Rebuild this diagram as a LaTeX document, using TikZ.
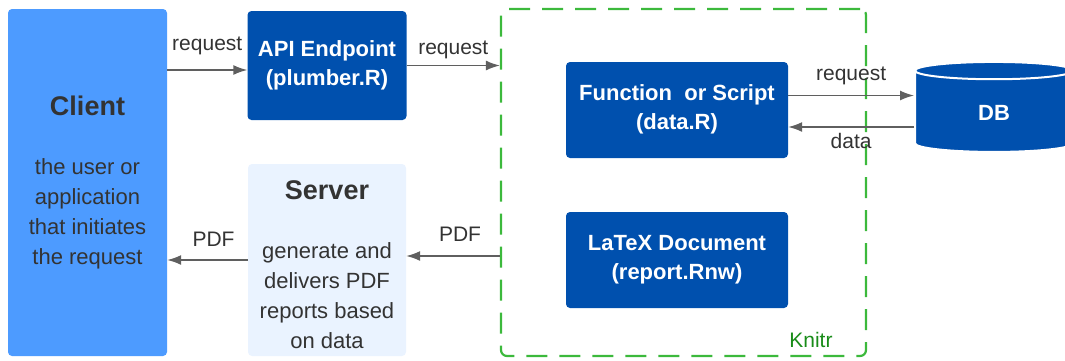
\documentclass[tikz,border=0pt]{standalone}
\usepackage{fontspec}
\setmainfont{Liberation Sans}
\usetikzlibrary{shapes.geometric, arrows.meta}
\definecolor{clientblue}{RGB}{77,155,255}
\definecolor{darkblue}{RGB}{0,80,174}
\definecolor{serverblue}{RGB}{234,243,255}
\definecolor{textgray}{RGB}{51,51,51}
\definecolor{arrowgray}{RGB}{95,95,95}
\definecolor{knitrgreen}{RGB}{60,185,60}
\definecolor{knitrtext}{RGB}{25,140,25}
\tikzstyle{client} = [rectangle, rounded corners=4pt, minimum width=159pt, minimum height=347pt,
    align=center, fill=clientblue, text=textgray, font=\fontsize{22}{30}\selectfont]
\tikzstyle{server} = [rectangle, rounded corners=4pt, minimum width=158pt, minimum height=192pt,
    align=center, fill=serverblue, text=textgray, font=\fontsize{22}{30}\selectfont]
\tikzstyle{process} = [rectangle, rounded corners=4pt, align=center,
    fill=darkblue, text=white, font=\bfseries\fontsize{22}{29}\selectfont]
\tikzstyle{database} = [cylinder, shape border rotate=90, aspect=0.45, minimum width=158pt,
    minimum height=90pt, fill=darkblue, draw=white, line width=2pt, text=white,
    font=\bfseries\fontsize{22}{29}\selectfont]
\tikzstyle{knitrbox} = [rectangle, rounded corners=6pt, draw=knitrgreen, line width=2.2pt,
    dash pattern=on 21pt off 12pt, minimum width=365pt, minimum height=347pt]
\tikzstyle{lbl} = [text=textgray, font=\fontsize{21}{25}\selectfont]
\tikzstyle{arrow} = [line width=1.5pt, draw=arrowgray, -{Latex[length=14pt,width=10pt]}]

\begin{document}
\begin{tikzpicture}[x=1pt, y=-1pt]
                \useasboundingbox (0,0) rectangle (1065,360);
                \clip (0,0) rectangle (1065,360);

                \node (client) [client] at (87.5,182.5) {{\bfseries\fontsize{27}{30}\selectfont Client}\\[29pt]
                    the user or\\application\\that initiates\\the request};
                \node (api) [process, minimum width=159pt, minimum height=109pt] at (327,65.5) {API Endpoint\\(plumber.R)};
                \node (server) [server] at (327,260) {{\bfseries\fontsize{27}{30}\selectfont\rule{0pt}{28pt}Server}\\[29pt]
                    generate and\\delivers PDF\\reports based\\on data};
                \node (knitr) [knitrbox] at (683.5,182.5) {};
                \node (knitrlabel) [lbl, text=knitrtext, anchor=base east] at ([xshift=-31pt, yshift=10pt]knitr.south east) {Knitr};
                \node (fn) [process, minimum width=222pt, minimum height=96pt] at (677,110) {Function\ \ or Script\\(data.R)\rule[-6pt]{0pt}{6pt}};
                \node (latex) [process, minimum width=222pt, minimum height=96pt] at (677,260) {LaTeX Document\\(report.Rnw)};
                \node (db) [database] at (994,113) {DB};

                \draw [arrow] ([yshift=-4.5pt]api.west -| client.east) -- node[lbl, above=11pt] {request} ([yshift=-4.5pt]api.west);
                \draw [arrow] (api.east) -- node[lbl, above=3pt] {request} (api.east -| knitr.west);
                \draw [arrow] ([yshift=14.5pt]fn.east) -- node[lbl, above=7pt] {request} ([yshift=14.5pt]fn.east -| db.west);
                \draw [arrow] ([yshift=-17pt]fn.east -| db.west) -- node[lbl, below=2pt] {data} ([yshift=-17pt]fn.east);
                \draw [arrow] ([yshift=4pt]server.east -| knitr.west) -- node[lbl, above=10pt, xshift=7pt] {PDF} ([yshift=4pt]server.east);
                \draw [arrow] (server.west) -- node[lbl, above=9pt, xshift=6pt] {PDF} (server.west -| client.east);
            \end{tikzpicture}
\end{document}
